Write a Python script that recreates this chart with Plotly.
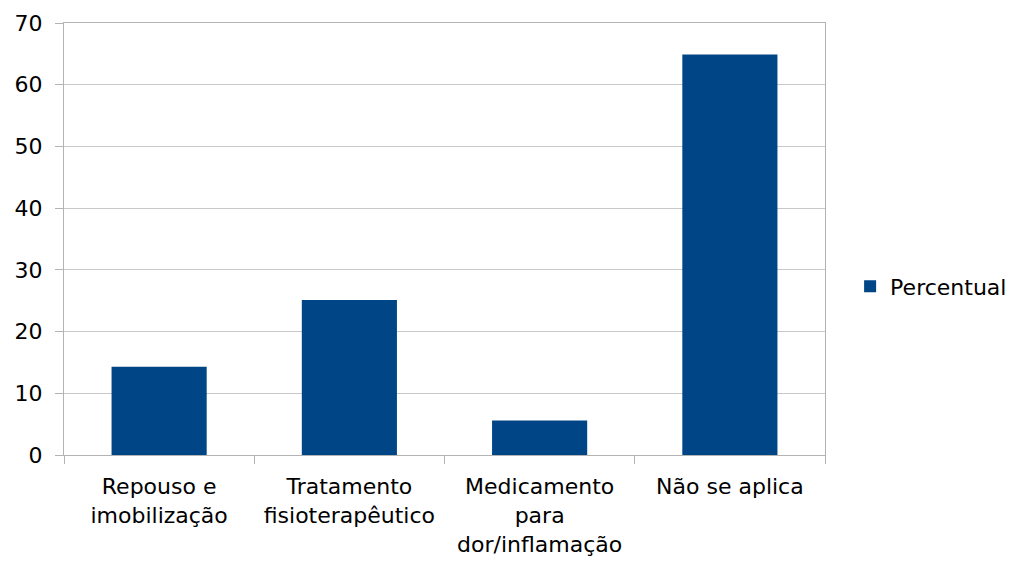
import plotly.graph_objects as go

categories = [
    "Repouso e<br>imobilização",
    "Tratamento<br>fisioterapêutico",
    "Medicamento<br>para<br>dor/inflamação",
    "Não se aplica",
]
percentual = [14.3, 25.1, 5.6, 64.9]
y_ticks = [0, 10, 20, 30, 40, 50, 60, 70]

fig = go.Figure()
fig.add_trace(go.Bar(
    x=categories,
    y=percentual,
    name="Percentual",
    marker=dict(color="#004586", line=dict(width=0)),
))

fig.update_layout(
    width=1014,
    height=562,
    margin=dict(l=64, r=189, t=23, b=107, autoexpand=False),
    paper_bgcolor="white",
    plot_bgcolor="white",
    bargap=0.5,
    font=dict(family="DejaVu Sans, Arial, sans-serif", size=22, color="#000000"),
    showlegend=True,
    legend=dict(
        x=1.033, xanchor="left",
        y=0.39, yanchor="middle",
        font=dict(size=22),
        bgcolor="rgba(0,0,0,0)",
    ),
    xaxis=dict(
        automargin=False,
        showgrid=False,
        showline=True,
        linecolor="#b3b3b3",
        linewidth=1,
        ticks="outside",
        tickson="boundaries",
        ticklen=8,
        tickcolor="#b3b3b3",
        mirror=True,
        tickfont=dict(size=22),
        ticklabelstandoff=12,
    ),
    yaxis=dict(
        automargin=False,
        range=[0, 70],
        tickvals=y_ticks,
        showgrid=True,
        gridcolor="#c8c8c8",
        gridwidth=1,
        showline=True,
        linecolor="#b3b3b3",
        linewidth=1,
        ticks="outside",
        ticklen=8,
        tickcolor="#b3b3b3",
        mirror=True,
        zeroline=False,
        tickfont=dict(size=22),
        ticklabelstandoff=8,
    ),
)

fig.write_html("out.html")
